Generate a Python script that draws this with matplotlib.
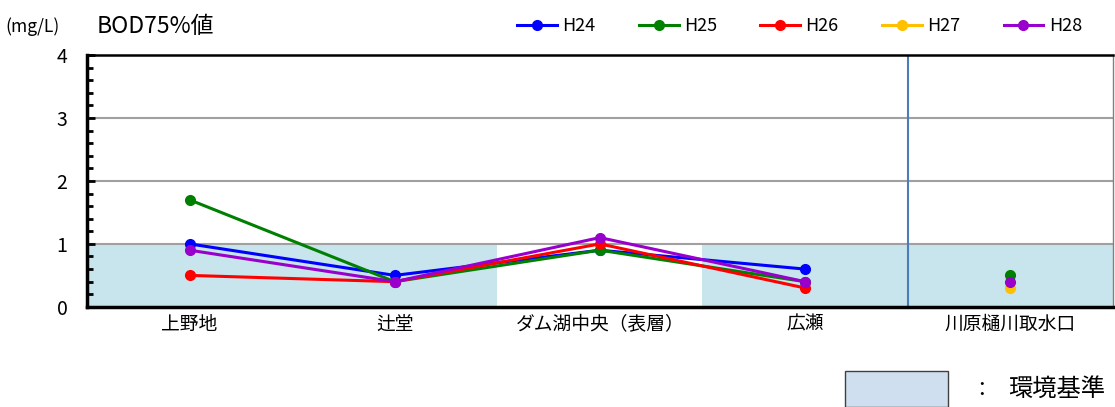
import numpy as np
import matplotlib
matplotlib.use("Agg")
import matplotlib.pyplot as plt
from matplotlib.patches import Rectangle
from matplotlib.ticker import MultipleLocator

plt.rcParams['font.family'] = ['Noto Sans CJK JP', 'DejaVu Sans']

sites = ['上野地', '辻堂', 'ダム湖中央（表層）', '広瀬', '川原樋川取水口']
years = ['H24', 'H25', 'H26', 'H27', 'H28']
nan = np.nan
h24 = [1.0, 0.5, 0.9, 0.6, nan]
h25 = [1.7, 0.4, 0.9, 0.4, 0.5]
h26 = [0.5, 0.4, 1.0, 0.3, nan]
h27 = [nan, nan, nan, nan, 0.3]
h28 = [0.9, 0.4, 1.1, 0.4, 0.4]
series = [h24, h25, h26, h27, h28]
colors = ['#0000ff', '#008000', '#ff0000', '#ffc000', '#9900cc']
standard = [1.0, 1.0, nan, 1.0, 1.0]   # 環境基準 (ダム湖は対象外)

fig = plt.figure(figsize=(11.15, 4.07), dpi=100)
ax = fig.add_axes([0.078, 0.246, 0.920, 0.619])

x = np.arange(len(sites))

# environmental standard shading
for i, s in enumerate(standard):
    if not np.isnan(s):
        ax.fill_between([i - 0.5, i + 0.5], 0, s, color='#c8e4ec', lw=0, zorder=0)

for y in [1, 2, 3]:
    ax.axhline(y, color='#a0a0a0', lw=1.5, zorder=1)

# river section separator
ax.axvline(3.5, color='#4a7ebb', lw=1.5, zorder=1)

for name, vals, c in zip(years, series, colors):
    v = np.array(vals)
    ax.plot(x[:4], v[:4], color=c, lw=2.2, marker='o', ms=7, zorder=3, label=name)
    ax.plot(x[4:], v[4:], color=c, lw=0, marker='o', ms=7, zorder=3)

ax.set_xlim(-0.5, 4.5)
ax.set_ylim(0, 4)
ax.set_xticks(x)
ax.set_xticklabels(sites, fontsize=13.5)
ax.tick_params(axis='x', length=0, pad=5)
ax.yaxis.set_major_locator(MultipleLocator(1))
ax.yaxis.set_minor_locator(MultipleLocator(0.2))
ax.tick_params(axis='y', which='major', direction='in', length=6, width=2, labelsize=14, pad=14)
ax.tick_params(axis='y', which='minor', direction='in', length=4, width=2)

ax.spines['left'].set_linewidth(2.5)
ax.spines['bottom'].set_linewidth(2.5)
ax.spines['top'].set_linewidth(1.8)
ax.spines['right'].set_linewidth(1.0)
ax.spines['right'].set_color('#808080')

fig.text(0.005, 0.935, '(mg/L)', fontsize=12.5, va='center')
fig.text(0.087, 0.935, 'BOD75%値', fontsize=16.5, va='center')

fig.legend(loc='center right', bbox_to_anchor=(0.985, 0.935), ncol=5, frameon=False,
           fontsize=13, handlelength=2.2, columnspacing=2.4, handletextpad=0.3)

fig.patches.append(Rectangle((845 / 1115, 0.0), 103 / 1115, 36 / 407, transform=fig.transFigure,
                             facecolor='#cfdff0', edgecolor='#404040', lw=1))
fig.text(978 / 1115, 0.045, ':', fontsize=17, va='center')
fig.text(1008 / 1115, 0.045, '環境基準', fontsize=17.5, va='center')

fig.savefig('out.png', dpi=100)
